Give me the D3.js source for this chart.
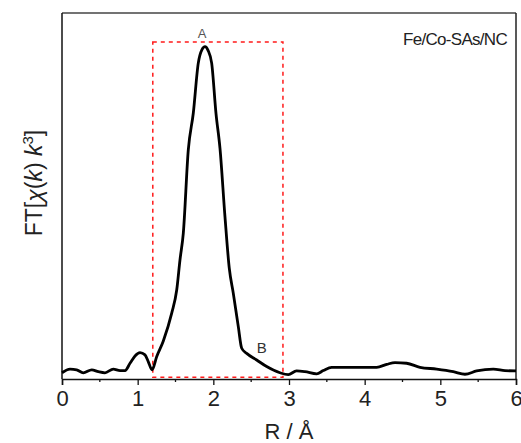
<!DOCTYPE html>
<html>
<head>
<meta charset="utf-8">
<script src="https://cdn.jsdelivr.net/npm/d3@7"></script>
<style>
  body { margin: 0; background: #fff; }
  text { font-family: "Liberation Sans", Arial, sans-serif; }
</style>
</head>
<body>
<div id="chart"></div>
<script>
// R (Å) and FT magnitude (arbitrary units)
const rValues = [0, 0.106, 0.194, 0.281, 0.393, 0.48, 0.568, 0.678, 0.767, 0.833, 0.899, 0.965, 1.031, 1.097, 1.141, 1.19,
  1.251, 1.339, 1.45, 1.516, 1.559, 1.603, 1.669, 1.735, 1.801, 1.85, 1.89, 1.93, 1.978, 2.035, 2.088, 2.154, 2.211, 2.264,
  2.33, 2.375, 2.441, 2.573, 2.705, 2.881, 2.991, 3.1, 3.21, 3.366, 3.453, 3.564, 3.762, 4.159, 4.291, 4.401, 4.555,
  4.731, 4.952, 5.171, 5.326, 5.48, 5.7, 5.855, 6.0];
const ftValues = [0.017, 0.027, 0.025, 0.017, 0.025, 0.02, 0.017, 0.027, 0.023, 0.023, 0.043, 0.063, 0.072, 0.066, 0.047, 0.025,
  0.061, 0.104, 0.18, 0.243, 0.325, 0.398, 0.626, 0.726, 0.863, 0.9, 0.908, 0.898, 0.863, 0.726, 0.63, 0.443, 0.302, 0.234,
  0.143, 0.084, 0.07, 0.052, 0.034, 0.017, 0.012, 0.022, 0.02, 0.014, 0.023, 0.032, 0.032, 0.032, 0.04, 0.045, 0.043,
  0.032, 0.027, 0.02, 0.013, 0.022, 0.027, 0.023, 0.022];

const xTicks = [0, 1, 2, 3, 4, 5, 6];
const xMinorTicks = [0.5, 1.5, 2.5, 3.5, 4.5, 5.5];

// dashed region box
const boxR = [1.2, 2.92];
const boxFT = [0.005, 0.921];

// peak labels
const peakNames = ["A", "B"];
const peakR = [1.85, 2.64];
const peakFT = [0.932, 0.071];

const sampleName = "Fe/Co-SAs/NC";

const margin = {top: 13, right: 5, bottom: 64, left: 62},
      width = 521 - margin.left - margin.right,
      height = 443 - margin.top - margin.bottom;

const svg = d3.select("#chart")
              .append("svg")
              .attr("width", width + margin.left + margin.right)
              .attr("height", height + margin.top + margin.bottom)
              .append("g")
              .attr("transform", `translate(${margin.left},${margin.top})`);

const x = d3.scaleLinear().domain([0, 6]).range([0, width]);
const y = d3.scaleLinear().domain([0, 1]).range([height, 0]);

// frame
svg.append("line").attr("x1", 0).attr("x2", width).attr("y1", 0).attr("y2", 0)
   .attr("stroke", "#444").attr("stroke-width", 1.5);
svg.append("line").attr("x1", width).attr("x2", width).attr("y1", 0).attr("y2", height)
   .attr("stroke", "#222").attr("stroke-width", 1.5);
svg.append("line").attr("x1", 0).attr("x2", 0).attr("y1", 0).attr("y2", height)
   .attr("stroke", "#111").attr("stroke-width", 1.5);

// x axis
const xAxis = svg.append("g")
   .attr("transform", `translate(0,${height})`)
   .call(d3.axisBottom(x).tickValues(xTicks).tickSize(6).tickPadding(5).tickFormat(d3.format("d")));
xAxis.select(".domain").attr("stroke", "#111").attr("stroke-width", 1.5);
xAxis.selectAll(".tick line").attr("stroke", "#111").attr("stroke-width", 1.3);
xAxis.selectAll(".tick text")
     .attr("fill", "#222")
     .style("font-size", "22px");

svg.append("g")
   .attr("transform", `translate(0,${height})`)
   .selectAll("line")
   .data(xMinorTicks)
   .enter()
   .append("line")
   .attr("x1", d => x(d)).attr("x2", d => x(d))
   .attr("y1", 0).attr("y2", 3)
   .attr("stroke", "#111").attr("stroke-width", 1.3);

// axis titles
svg.append("text")
   .attr("x", width / 2)
   .attr("y", height + 60)
   .attr("text-anchor", "middle")
   .attr("fill", "#222")
   .style("font-size", "22px")
   .text("R / Å");

const yLabel = svg.append("text")
   .attr("transform", `translate(-20,${height / 2 - 13}) rotate(-90)`)
   .attr("text-anchor", "middle")
   .attr("fill", "#222")
   .style("font-size", "23px");
yLabel.append("tspan").text("FT[");
yLabel.append("tspan").style("font-style", "italic").text("χ");
yLabel.append("tspan").text("(");
yLabel.append("tspan").style("font-style", "italic").text("k");
yLabel.append("tspan").text(") ");
yLabel.append("tspan").style("font-style", "italic").text("k");
yLabel.append("tspan").attr("dy", -9).style("font-size", "15px").text("3");
yLabel.append("tspan").attr("dy", 9).text("]");

// dashed box
svg.append("rect")
   .attr("x", x(boxR[0]))
   .attr("y", y(boxFT[1]))
   .attr("width", x(boxR[1]) - x(boxR[0]))
   .attr("height", y(boxFT[0]) - y(boxFT[1]))
   .attr("fill", "none")
   .attr("stroke", "#ff1a1a")
   .attr("stroke-width", 1.5)
   .attr("stroke-dasharray", "4,4");

// curve
const data = rValues.map((r, i) => ({r: r, v: ftValues[i]}));
const line = d3.line()
               .x(d => x(d.r))
               .y(d => y(d.v))
               .curve(d3.curveMonotoneX);

svg.append("path")
   .datum(data)
   .attr("fill", "none")
   .attr("stroke", "#000")
   .attr("stroke-width", 2.8)
   .attr("stroke-linejoin", "round")
   .attr("d", line);

// peak labels
svg.selectAll(".peak")
   .data(peakNames)
   .enter()
   .append("text")
   .attr("class", "peak")
   .attr("x", (d, i) => x(peakR[i]))
   .attr("y", (d, i) => y(peakFT[i]))
   .attr("text-anchor", "middle")
   .attr("fill", (d, i) => i === 0 ? "#555" : "#333")
   .style("font-size", (d, i) => i === 0 ? "13px" : "15px")
   .text(d => d);

svg.append("text")
   .attr("x", width - 9)
   .attr("y", 32)
   .attr("text-anchor", "end")
   .attr("fill", "#222")
   .style("font-size", "17px")
   .style("letter-spacing", "-0.7px")
   .text(sampleName);
</script>
</body>
</html>
